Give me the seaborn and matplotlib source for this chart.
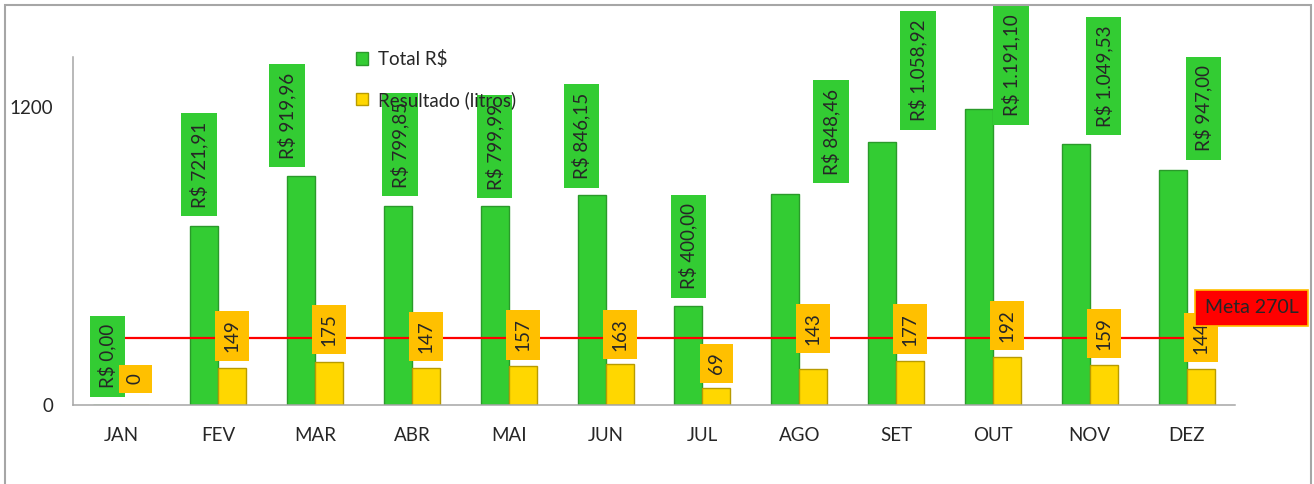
import matplotlib
matplotlib.use("Agg")
import matplotlib.pyplot as plt
import seaborn as sns
import pandas as pd
import numpy as np
from matplotlib.patches import Patch, Rectangle

# dados do grafico
meses = ["JAN", "FEV", "MAR", "ABR", "MAI", "JUN", "JUL", "AGO", "SET", "OUT", "NOV", "DEZ"]
total_rs = [0.00, 721.91, 919.96, 799.85, 799.99, 846.15, 400.00, 848.46, 1058.92, 1191.10, 1049.53, 947.00]
litros = [0, 149, 175, 147, 157, 163, 69, 143, 177, 192, 159, 144]
meta = 270
series = ["Total R$", "Resultado (litros)"]
yticks = [0, 1200]

# ajustes manuais das etiquetas (pixels), como no original
dx_total = [0, -5, -14, 2, 0, -10, 0, 46, 36, 32, 28, 31]
dy_total = [8, 9, 9, 10, 8, 7, 8, 11, 12, -16, 9, 10]
dy_litros = [12, 7, 7, 7, 6, 5, 5, 16, 7, 7, 7, 7]

verde = "#33CC33"
amarelo = "#FFD700"
laranja = "#FFC000"
cinza = "#A6A6A6"

def fmt_brl(v):
    s = f"{v:,.2f}".replace(",", "X").replace(".", ",").replace("X", ".")
    return "R$ " + s

sns.set_style("white")
plt.rcParams["font.family"] = ["Lato", "DejaVu Sans"]
fs = 13.5

df = pd.DataFrame({
    "mes": meses * 2,
    "serie": [series[0]] * len(meses) + [series[1]] * len(meses),
    "valor": total_rs + litros,
})

W, H = 1314, 484
fig = plt.figure(figsize=(W / 100, H / 100), dpi=100)
ax = fig.add_axes([73 / W, 1 - 405 / H, (1235 - 73) / W, (405 - 57) / H])

sns.barplot(data=df, x="mes", y="valor", hue="serie", palette=[verde, amarelo],
            width=0.58, saturation=1, ax=ax, legend=False)
edges = ["#2A9A2A", "#B89B00"]
for cont, ec in zip(ax.containers, edges):
    for r in cont:
        r.set_edgecolor(ec)
        r.set_linewidth(1.0)

# linha da meta
ax.plot(np.arange(len(meses)), [meta] * len(meses), color="#FF0000", lw=1.6, zorder=2)

pad = "square,pad=0.45"
for i, r in enumerate(ax.containers[0]):
    x = r.get_x() + r.get_width() / 2
    ax.annotate(fmt_brl(total_rs[i]), xy=(x, r.get_height()),
                xytext=(dx_total[i], dy_total[i] + 8.5), textcoords="offset pixels",
                rotation=90, ha="center", va="bottom", fontsize=fs,
                bbox=dict(boxstyle=pad, fc=verde, ec="none"), zorder=4,
                annotation_clip=False)
for i, r in enumerate(ax.containers[1]):
    x = r.get_x() + r.get_width() / 2
    ax.annotate(str(litros[i]), xy=(x, r.get_height()),
                xytext=(0, dy_litros[i] + 8.5), textcoords="offset pixels",
                rotation=90, ha="center", va="bottom", fontsize=fs,
                bbox=dict(boxstyle=pad, fc=laranja, ec="none"), zorder=4,
                annotation_clip=False)

ax.annotate("Meta 270L", xy=(len(meses) - 1, meta), xytext=(65, 30),
            textcoords="offset pixels", ha="center", va="center", fontsize=14,
            bbox=dict(boxstyle="square,pad=0.5", fc="#FF0000", ec=laranja, lw=1.2),
            zorder=5, annotation_clip=False)

ax.set_xlim(-0.5, len(meses) - 0.5)
ax.set_ylim(0, 1400)
ax.set_yticks(yticks)
ax.set_yticklabels([str(v) for v in yticks], fontsize=fs)
ax.set_xticks(np.arange(len(meses)))
ax.set_xticklabels(meses, fontsize=fs)
ax.set_xticks(np.arange(len(meses) + 1) - 0.5, minor=True)
ax.tick_params(axis="x", which="major", length=0, pad=15.5)
ax.tick_params(axis="x", which="minor", length=4.3, width=1.1, color=cinza)
ax.tick_params(axis="y", length=0, pad=14.4)
ax.set_xlabel("")
ax.set_ylabel("")
for s in ["top", "right"]:
    ax.spines[s].set_visible(False)
for s in ["left", "bottom"]:
    ax.spines[s].set_color(cinza)
    ax.spines[s].set_linewidth(1.1)

handles = [Patch(fc=verde, ec="#2A9A2A"), Patch(fc=amarelo, ec="#B89B00")]
leg = ax.legend(handles, series, loc="upper left", bbox_to_anchor=(356 / W, 1 - 50 / H),
                bbox_transform=fig.transFigure, frameon=False, fontsize=fs,
                handlelength=0.65, handleheight=0.65, handletextpad=0.55,
                labelspacing=1.22, borderpad=0, borderaxespad=0)
leg.set_zorder(6)

# moldura externa
fig.patches.append(Rectangle((5 / W, -0.1), (1311 - 5) / W, 1 - 5 / H + 0.1,
                             transform=fig.transFigure, fill=False, ec=cinza, lw=1.5))

fig.savefig("out.png", dpi=100)
